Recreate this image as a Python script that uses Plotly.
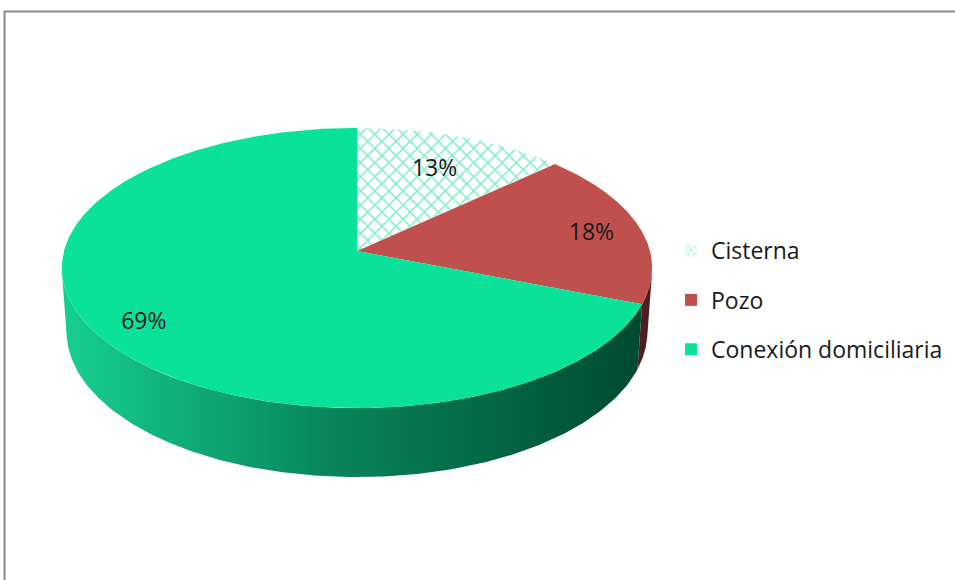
import numpy as np
import plotly.graph_objects as go

# ---- data -------------------------------------------------------------
labels = ["Cisterna", "Pozo", "Conexión domiciliaria"]
values = [13, 18, 69]
pct_text = ["13%", "18%", "69%"]

# ---- styling ----------------------------------------------------------
top_colors = ["#ffffff", "#C0504D", "#0AE29A"]
side_colors = ["#0a8a5e", "#4f1f1f", None]
green_side_scale = [[0.0, "#16cf91"], [0.45, "#08875b"], [1.0, "#004a31"]]
pattern_green = "#10dc98"
label_radius = [0.72, 0.83, 0.83]
LABEL_DY = 4
FONT = "'Open Sans', 'Noto Sans', sans-serif"

# ---- simple perspective projection of a tilted disc ------------------
W, H = 955, 580
CX, CY = 357.0, 251.0
FOCAL = 2133.0
DIST = 7.28
ELEV = np.radians(28.1)
THICK = 0.249


def project(theta, r=1.0, h=0.0):
    X = r * np.sin(theta)
    D = r * np.cos(theta)
    yc = h * np.cos(ELEV) + D * np.sin(ELEV)
    zc = DIST + D * np.cos(ELEV) - h * np.sin(ELEV)
    return CX + FOCAL * X / zc, CY - FOCAL * yc / zc


total = float(sum(values))
bounds = np.concatenate([[0.0], np.cumsum(values)]) / total * 2 * np.pi

# range of angles where the outer wall faces the viewer
c_lim = np.arccos(-1.0 / (DIST * np.cos(ELEV)))
vis_lo, vis_hi = c_lim, 2 * np.pi - c_lim

fig = go.Figure()

# outer walls (drawn first, tops cover them)
for i in range(len(values)):
    a1 = max(bounds[i], vis_lo)
    a2 = min(bounds[i + 1], vis_hi)
    if a2 <= a1:
        continue
    th = np.linspace(a1, a2, 200)
    xt, yt = project(th)
    xb, yb = project(th[::-1], h=-THICK)
    xs = np.concatenate([xt, xb, xt[:1]])
    ys = np.concatenate([yt, yb, yt[:1]])
    kw = dict(x=xs, y=ys, mode="lines", fill="toself", line=dict(width=0),
              hoverinfo="skip", showlegend=False)
    if side_colors[i] is None:
        kw["fillgradient"] = dict(type="horizontal", colorscale=green_side_scale)
    else:
        kw["fillcolor"] = side_colors[i]
    fig.add_trace(go.Scatter(**kw))

# top faces
for i in range(len(values)):
    th = np.linspace(bounds[i], bounds[i + 1], 300)
    xa, ya = project(th)
    x0, y0 = project(0.0, r=0.0)
    xs = np.concatenate([[x0], xa, [x0]])
    ys = np.concatenate([[y0], ya, [y0]])
    kw = dict(x=xs, y=ys, mode="lines", fill="toself", line=dict(width=0),
              hoverinfo="skip", showlegend=False, name=labels[i])
    if i == 0:
        kw["fillpattern"] = dict(shape="x", fgcolor=pattern_green, bgcolor="white",
                                 size=10, solidity=0.3)
    else:
        kw["fillcolor"] = top_colors[i]
    fig.add_trace(go.Scatter(**kw))

# percentage labels
mids = (bounds[:-1] + bounds[1:]) / 2
lx, ly = [], []
for m, r in zip(mids, label_radius):
    px, py = project(m, r=r)
    lx.append(px)
    ly.append(py + LABEL_DY)
fig.add_trace(go.Scatter(x=lx, y=ly, mode="text", text=pct_text,
                         textfont=dict(family=FONT, size=23, color="#1a1a1a"),
                         hoverinfo="skip", showlegend=False))

# legend entries
for i, lab in enumerate(labels):
    if i == 0:
        marker = dict(color="white", line=dict(width=0),
                      pattern=dict(shape="x", fgcolor=pattern_green, bgcolor="white",
                                   size=6, solidity=0.3))
    else:
        marker = dict(color=top_colors[i], line=dict(width=0))
    fig.add_trace(go.Bar(x=[None], y=[None], name=lab, marker=marker,
                         legendgroup=lab, showlegend=True))

# outer frame
fig.add_shape(type="rect", xref="x", yref="y", x0=4.5, y0=11.5, x1=W + 40, y1=H + 40,
              line=dict(color="#8a8a8a", width=2), fillcolor="rgba(0,0,0,0)", layer="above")

fig.update_layout(
    width=W, height=H,
    margin=dict(l=0, r=0, t=0, b=0),
    paper_bgcolor="white", plot_bgcolor="white",
    xaxis=dict(range=[0, W], visible=False, fixedrange=True),
    yaxis=dict(range=[H, 0], visible=False, fixedrange=True),
    showlegend=True,
    legend=dict(x=671 / W, y=1 - 229 / H, xanchor="left", yanchor="top",
                font=dict(family=FONT, size=23, color="#1a1a1a"),
                tracegroupgap=16.5, bgcolor="rgba(0,0,0,0)"),
)

fig.write_html("out.html")
